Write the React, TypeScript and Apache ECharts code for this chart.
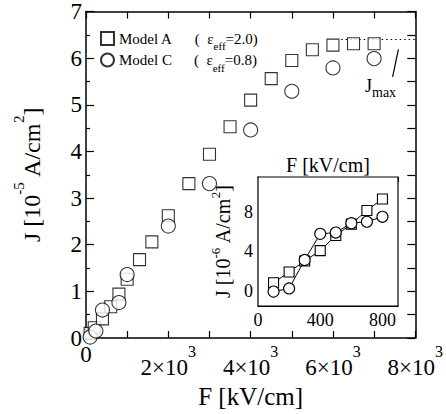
import React, { useEffect, useRef } from "react";
import * as echarts from "echarts";

const FONT = "Liberation Serif";

// Main panel: F [kV/cm], J [1e-5 A/cm^2]
const modelAMain: [number, number][] = [
  [100, 0.1], [200, 0.22], [400, 0.41], [600, 0.67], [800, 0.94], [1000, 1.26],
  [1300, 1.68], [1600, 2.06], [2000, 2.62], [2500, 3.31], [3000, 3.94], [3500, 4.53],
  [4000, 5.1], [4500, 5.56], [5000, 5.95], [5500, 6.18], [6000, 6.28], [6500, 6.31], [7000, 6.31],
];
const modelCMain: [number, number][] = [
  [100, 0.02], [240, 0.15], [400, 0.6], [800, 0.76], [1000, 1.36], [2000, 2.4],
  [3000, 3.31], [4000, 4.46], [5000, 5.29], [6000, 5.79], [7000, 5.99],
];
const jmaxLevel: [number, number][] = [[6200, 6.4], [8000, 6.4]];
const jmaxPointer: [number, number][] = [[7450, 5.6], [7590, 6.19]];

// Inset: F [kV/cm], J [1e-6 A/cm^2]
const modelAInset: [number, number][] = [
  [100, 0.84], [200, 1.92], [300, 3.04], [400, 4.08], [500, 5.6], [600, 6.75], [700, 8.13], [800, 9.28],
];
const modelCInset: [number, number][] = [
  [100, -0.05], [200, 0.27], [300, 3.14], [400, 5.77], [500, 5.9], [600, 6.85], [700, 6.99], [800, 7.49],
];
const insetYTicks = [0, 2, 4, 6, 8, 10];
const insetYLabels = [0, 4, 8];
const insetXLabels = [0, 400, 800];

export default function App() {
  const ref = useRef<HTMLDivElement>(null);
  useEffect(() => {
    if (!ref.current) return;
    const chart = echarts.init(ref.current, null, { renderer: "svg" });
    const black = "#000";
    const axisLine = { show: true, onZero: false, lineStyle: { color: black, width: 1.5 } };
    const marker = { color: "#fff", borderColor: black, borderWidth: 1.1 };
    chart.setOption({
      animation: false,
      backgroundColor: "#fff",
      grid: [
        { left: 86, top: 10, width: 332, height: 329, containLabel: false },
        {
          left: 258, top: 177, width: 140, height: 129, show: true,
          backgroundColor: "#fff", borderColor: black, borderWidth: 1.2, z: 5,
        },
      ],
      legend: {
        data: ["Model A", "Model C"],
        orient: "vertical",
        left: 100,
        top: 31,
        padding: 0,
        itemWidth: 13,
        itemHeight: 13,
        itemGap: 1,
        textStyle: {
          fontFamily: FONT, fontSize: 15, color: black,
          rich: {
            n: { fontFamily: FONT, fontSize: 15, lineHeight: 26, color: black },
            g: { fontFamily: FONT, width: 22, fontSize: 15, lineHeight: 26 },
            e: { fontFamily: FONT, fontSize: 11, lineHeight: 6, verticalAlign: "bottom", color: black },
          },
        },
        formatter: (name: string) =>
          name === "Model A"
            ? "{n|Model A}{g| }{n|(  ε}{e|eff}{n|=2.0)}"
            : "{n|Model C}{g| }{n|(  ε}{e|eff}{n|=0.8)}",
      },
      xAxis: [
        {
          type: "value", gridIndex: 0, position: "bottom", min: 0, max: 8000, interval: 1000,
          axisLine, splitLine: { show: false },
          axisTick: { inside: true, length: 7, lineStyle: { color: black, width: 1.2 } },
          axisLabel: {
            margin: 5, color: black, fontFamily: FONT, fontSize: 23,
            formatter: (v: number) =>
              v === 0 ? "{z|0}" : v % 2000 === 0 ? `{b|${v / 1000}×10}{s|3}` : "",
            rich: {
              z: { fontFamily: FONT, fontSize: 23, lineHeight: 23, color: black },
              b: { fontFamily: FONT, fontSize: 23, lineHeight: 49, color: black },
              s: { fontFamily: FONT, fontSize: 16, lineHeight: 22, verticalAlign: "top", color: black },
            },
          },
          name: "F [kV/cm]", nameLocation: "middle", nameGap: 46,
          nameTextStyle: { fontFamily: FONT, fontSize: 25, color: black },
        },
        {
          type: "value", gridIndex: 0, position: "top", min: 0, max: 8000, interval: 1000,
          axisLine, splitLine: { show: false },
          axisTick: { inside: true, length: 7, lineStyle: { color: black, width: 1.2 } },
          axisLabel: { show: false },
        },
        {
          type: "value", gridIndex: 1, position: "bottom", min: 0, max: 900, interval: 100,
          axisLine: { show: true, onZero: false, lineStyle: { color: black, width: 1.2 } },
          splitLine: { show: false },
          axisTick: { show: false },
          axisLabel: {
            margin: 5, color: black, fontFamily: FONT, fontSize: 18,
            customValues: insetXLabels,
            formatter: (v: number) => (insetXLabels.indexOf(v) >= 0 ? String(v) : ""),
          },
        },
        {
          type: "value", gridIndex: 1, position: "top", min: 0, max: 900, interval: 100,
          axisLine: { show: true, onZero: false, lineStyle: { color: black, width: 1.2 } },
          splitLine: { show: false },
          axisTick: { inside: true, length: 5, lineStyle: { color: black, width: 1 } },
          axisLabel: { show: false },
          name: "F [kV/cm]", nameLocation: "middle", nameGap: 2,
          nameTextStyle: { fontFamily: FONT, fontSize: 20, color: black },
        },
      ],
      yAxis: [
        {
          type: "value", gridIndex: 0, position: "left", min: 0, max: 7, interval: 1,
          axisLine, splitLine: { show: false },
          axisTick: { inside: true, length: 8, lineStyle: { color: black, width: 1.2 } },
          minorTick: { show: true, splitNumber: 2, length: 4, lineStyle: { color: black, width: 1.2 } },
          axisLabel: { margin: 4, color: black, fontFamily: FONT, fontSize: 23 },
          name: "{m|J [10}{p|-5}{m| A/cm}{p|2}{m|]}",
          nameLocation: "middle", nameRotate: 90, nameGap: 34,
          nameTextStyle: {
            fontFamily: FONT, fontSize: 23, color: black,
            rich: {
              m: { fontFamily: FONT, fontSize: 24, lineHeight: 41, color: black },
              p: { fontFamily: FONT, fontSize: 15, lineHeight: 6, verticalAlign: "top", color: black },
            },
          },
        },
        {
          type: "value", gridIndex: 0, position: "right", min: 0, max: 7, interval: 0.5,
          axisLine, splitLine: { show: false },
          axisTick: { inside: true, length: 8, lineStyle: { color: black, width: 1.2 } },
          axisLabel: { show: false },
        },
        {
          type: "value", gridIndex: 1, position: "left", min: -1.5, max: 11.5,
          axisLine: { show: true, onZero: false, lineStyle: { color: black, width: 1.2 } },
          splitLine: { show: false },
          axisTick: { inside: true, length: 5, customValues: insetYTicks, lineStyle: { color: black, width: 1 } },
          axisLabel: {
            margin: 5, color: black, fontFamily: FONT, fontSize: 18,
            customValues: insetYLabels,
          },
          name: "{m|J [10}{p|-6}{m| A/cm}{p|2}{m|]}",
          nameLocation: "middle", nameRotate: 90, nameGap: 21,
          nameTextStyle: {
            fontFamily: FONT, fontSize: 20, color: black,
            rich: {
              m: { fontFamily: FONT, fontSize: 20, lineHeight: 28, color: black },
              p: { fontFamily: FONT, fontSize: 13, lineHeight: 6, verticalAlign: "top", color: black },
            },
          },
        },
      ],
      graphic: [
        {
          type: "text",
          x: 365,
          y: 73,
          z: 10,
          style: {
            text: "{j|J}{m|max}",
            textAlign: "left",
            textVerticalAlign: "top",
            verticalAlign: "top",
            fill: black,
            fontFamily: FONT,
            fontSize: 18,
            rich: {
              j: { fontFamily: FONT, fontSize: 18, lineHeight: 26, fill: black },
              m: { fontFamily: FONT, fontSize: 14, lineHeight: 6, verticalAlign: "bottom", fill: black },
            },
          },
        },
      ],
      series: [
        {
          name: "J max level", type: "line", xAxisIndex: 0, yAxisIndex: 0, data: jmaxLevel,
          symbol: "none", lineStyle: { color: black, width: 1, type: [1.5, 3] }, z: 1,
        },
        {
          name: "J max pointer", type: "line", xAxisIndex: 0, yAxisIndex: 0, data: jmaxPointer,
          symbol: "none", lineStyle: { color: black, width: 1.2 },
        },
        {
          name: "Model A", type: "scatter", xAxisIndex: 0, yAxisIndex: 0, data: modelAMain,
          symbol: "rect", symbolSize: 12, itemStyle: marker,
        },
        {
          name: "Model C", type: "scatter", xAxisIndex: 0, yAxisIndex: 0, data: modelCMain,
          symbol: "circle", symbolSize: 14, itemStyle: marker,
        },
        {
          name: "Model A (inset)", type: "line", xAxisIndex: 2, yAxisIndex: 2, data: modelAInset,
          symbol: "rect", symbolSize: 10, itemStyle: marker, z: 6,
          lineStyle: { color: black, width: 1 },
        },
        {
          name: "Model C (inset)", type: "line", xAxisIndex: 2, yAxisIndex: 2, data: modelCInset,
          symbol: "circle", symbolSize: 11, itemStyle: marker, z: 7,
          lineStyle: { color: black, width: 1 },
        },
      ],
    });
    return () => chart.dispose();
  }, []);
  return <div ref={ref} style={{ width: 446, height: 414, position: "absolute", left: 0, top: 0 }} />;
}
